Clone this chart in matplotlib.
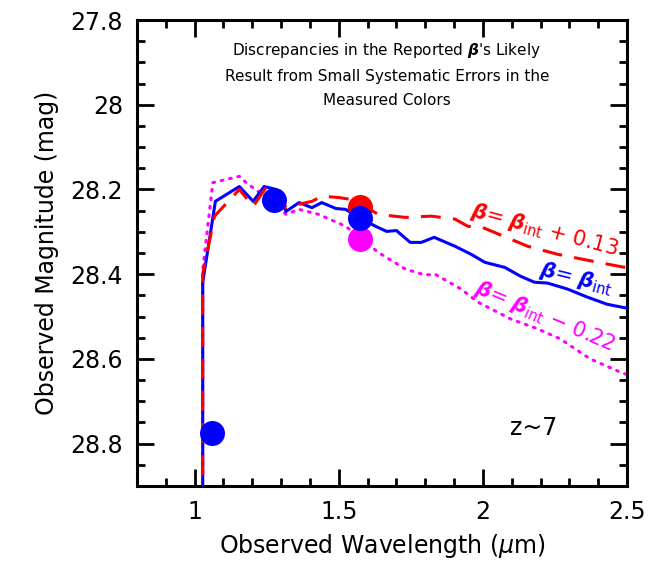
import matplotlib.pyplot as plt
from matplotlib.ticker import MultipleLocator

# wavelength (micron) and observed magnitude for the three model spectra
wave_int = [1.028, 1.028, 1.072, 1.155, 1.203, 1.241, 1.283, 1.317, 1.362, 1.407, 1.441,
            1.49, 1.524, 1.569, 1.628, 1.666, 1.70, 1.748, 1.786, 1.831, 1.903, 1.959,
            2.007, 2.076, 2.131, 2.179, 2.224, 2.293, 2.362, 2.431, 2.483, 2.5]
mag_int = [28.95, 28.42, 28.228, 28.193, 28.228, 28.193, 28.20, 28.252, 28.231, 28.243, 28.231,
           28.245, 28.247, 28.266, 28.287, 28.299, 28.297, 28.325, 28.325, 28.313, 28.334, 28.353,
           28.372, 28.384, 28.405, 28.419, 28.421, 28.435, 28.454, 28.471, 28.478, 28.48]

wave_red = [1.028, 1.028, 1.069, 1.155, 1.203, 1.248, 1.293, 1.317, 1.362, 1.407, 1.441,
            1.50, 1.545, 1.638, 1.731, 1.821, 1.903, 1.948, 2.0, 2.155, 2.259, 2.40, 2.5]
mag_red = [28.95, 28.40, 28.263, 28.20, 28.24, 28.195, 28.207, 28.243, 28.235, 28.228, 28.216,
           28.219, 28.224, 28.259, 28.266, 28.263, 28.27, 28.287, 28.29, 28.334, 28.353, 28.372, 28.385]

wave_mag = [1.028, 1.028, 1.063, 1.155, 1.179, 1.259, 1.317, 1.362, 1.431, 1.524, 1.638,
            1.731, 1.80, 1.834, 1.924, 1.983, 2.097, 2.19, 2.269, 2.372, 2.476, 2.5]
mag_mag = [28.95, 28.39, 28.184, 28.169, 28.184, 28.224, 28.259, 28.247, 28.259, 28.287, 28.349,
           28.388, 28.402, 28.40, 28.435, 28.466, 28.506, 28.529, 28.553, 28.60, 28.631, 28.637]

# measured photometry points
pt_x = [1.06, 1.275, 1.575]
pt_y = [28.775, 28.226, 28.268]
red_pt = (1.575, 28.242)
mag_pt = (1.575, 28.318)

fig = plt.figure(figsize=(6.62, 5.68), dpi=100)
ax = fig.add_axes([137 / 662, 1 - 486 / 568, 490 / 662, 466 / 568])

ax.plot(wave_int, mag_int, color='blue', lw=2.2, zorder=3)
ax.plot(wave_red, mag_red, color='red', lw=2.2, ls=(0, (6.5, 4)), zorder=4)
ax.plot(wave_mag, mag_mag, color='magenta', lw=2.2, ls=(0, (0.6, 2.2)),
        dash_capstyle='round', zorder=2)

ax.plot(red_pt[0], red_pt[1], 'o', color='red', ms=18, mec='none', zorder=5)
ax.plot(mag_pt[0], mag_pt[1], 'o', color='magenta', ms=18, mec='none', zorder=5)
ax.plot(pt_x, pt_y, 'o', color='blue', ms=18, mec='none', zorder=6)

ax.set_xlim(0.8, 2.5)
ax.set_ylim(28.9, 27.8)
ax.xaxis.set_major_locator(MultipleLocator(0.5))
ax.xaxis.set_minor_locator(MultipleLocator(0.1))
ax.yaxis.set_major_locator(MultipleLocator(0.2))
ax.yaxis.set_minor_locator(MultipleLocator(0.05))
ax.set_xticks([1, 1.5, 2, 2.5])
ax.set_xticklabels(['1', '1.5', '2', '2.5'])
ax.set_yticks([27.8, 28.0, 28.2, 28.4, 28.6, 28.8])
ax.set_yticklabels(['27.8', '28', '28.2', '28.4', '28.6', '28.8'])
ax.tick_params(which='both', direction='in', top=True, right=True, width=2, labelsize=17)
ax.tick_params(which='major', length=12, pad=10)
ax.tick_params(which='minor', length=6)
for s in ax.spines.values():
    s.set_linewidth(2.2)

ax.set_xlabel(r'Observed Wavelength ($\mu$m)', fontsize=17, labelpad=6)
ax.set_ylabel('Observed Magnitude (mag)', fontsize=17, labelpad=8)

ax.text(0.51, 0.955, "Discrepancies in the Reported $\\boldsymbol{\\beta}$'s Likely\n"
        "Result from Small Systematic Errors in the\nMeasured Colors",
        transform=ax.transAxes, ha='center', va='top', fontsize=11, linespacing=1.75)
ax.text(0.81, 0.11, 'z~7', transform=ax.transAxes, fontsize=17, ha='center')

ax.text(2.215, 28.296, r'$\boldsymbol{\beta}$= $\boldsymbol{\beta}_{\rm int}$ + 0.13',
        color='red', fontsize=15, rotation=-15, ha='center', va='center')
ax.text(2.325, 28.41, r'$\boldsymbol{\beta}$= $\boldsymbol{\beta}_{\rm int}$',
        color='blue', fontsize=15, rotation=-14, ha='center', va='center')
ax.text(2.215, 28.50, r'$\boldsymbol{\beta}$= $\boldsymbol{\beta}_{\rm int}$ $-$ 0.22',
        color='magenta', fontsize=15, rotation=-23, ha='center', va='center')

fig.savefig('out.png', dpi=100)
